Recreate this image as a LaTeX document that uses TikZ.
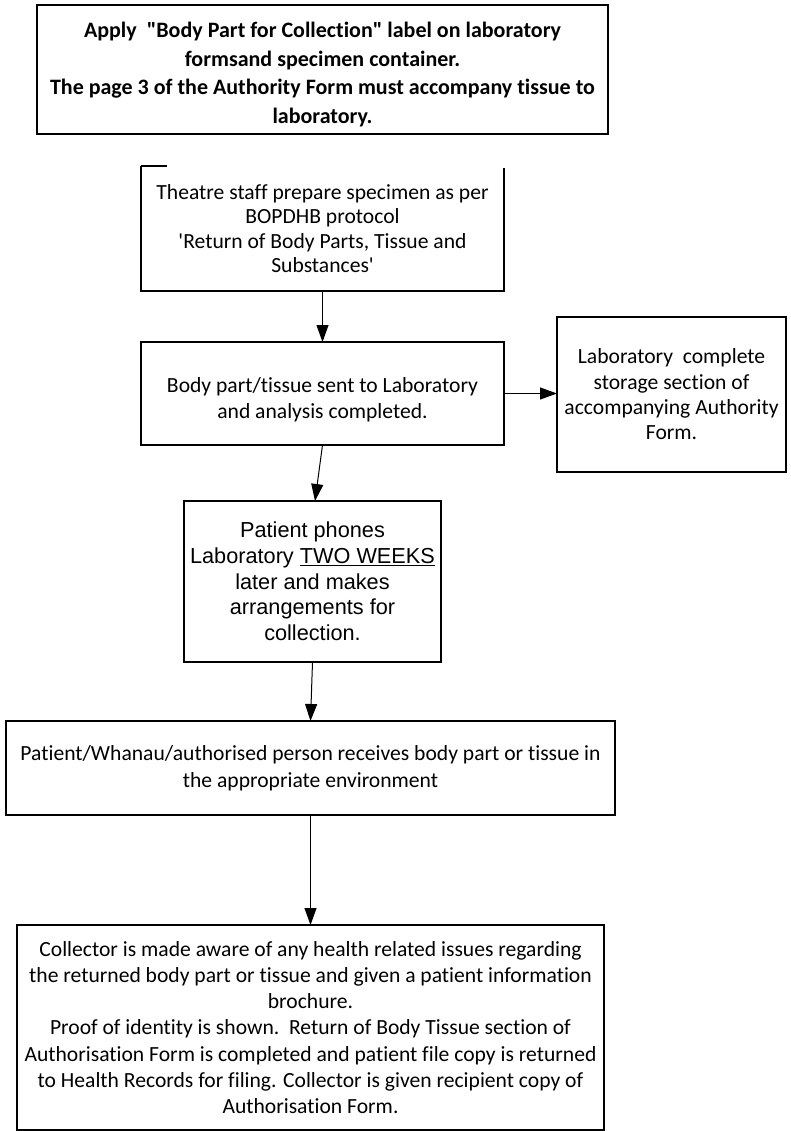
\documentclass[tikz,border=0pt]{standalone}
\usepackage{fontspec}
\setmainfont{Carlito}[Ligatures={TeXOff,CommonOff}]
\newfontfamily\arialfont{Liberation Sans}[Ligatures={TeXOff,CommonOff}]
\usetikzlibrary{arrows.meta,calc}
\begin{document}
\begin{tikzpicture}[x=1pt,y=-1pt,
  box/.style={draw=black,line width=1.2pt,inner sep=0pt,outer sep=0pt,align=center,
    font=\fontsize{21.6}{26}\selectfont},
  openbox/.style={box,draw=none},
  flow/.style={line width=1pt,-{Triangle[length=17pt,width=12pt]}}]
\useasboundingbox (0,0) rectangle (791,1131);

\node[box,minimum width=571pt,minimum height=129pt,
  label={[yshift=-5pt,align=center,font=\fontsize{22}{28.5}\selectfont\bfseries]center:{Apply\ \ "Body Part for Collection" label on laboratory\\
   formsand specimen container.\\
   The page 3 of the Authority Form must accompany tissue to\\
   laboratory.}}] (b1) at (322.5,69.5) {};

\node[openbox,minimum width=363pt,minimum height=125pt,
  font=\fontsize{21.6}{24.5}\selectfont] (b2) at (322.5,228.5)
  {Theatre staff prepare specimen as per\\
   BOPDHB protocol\\
   'Return of Body Parts, Tissue and\\
   Substances'};
\draw[line width=1.2pt] (b2.north west) -- ++(26,0);
\draw[line width=1.2pt] (b2.north west) -- (b2.south west) -- (b2.south east) -- ([yshift=-2pt]b2.north east);

\node[box,minimum width=363pt,minimum height=103pt,
  label={[yshift=-6pt,align=center,font=\fontsize{21.6}{26}\selectfont]center:{Body part/tissue sent to Laboratory\\
   and analysis completed.}}] (b3) at (322.5,393.5) {};

\node[box,minimum width=229pt,minimum height=155pt,
  font=\fontsize{21.6}{25.3}\selectfont] (b4) at (671.5,394.5)
  {Laboratory\ \ complete\\
   storage section of\\
   accompanying Authority\\
   Form.};

\node[box,minimum width=257pt,minimum height=161pt,
  font=\arialfont\fontsize{21.7}{25.7}\selectfont] (b5) at (312.5,581.5)
  {Patient phones\\
   Laboratory \underline{TWO WEEKS}\\
   later and makes\\
   arrangements for\\
   collection.};

\node[box,minimum width=609pt,minimum height=94pt,
  font=\fontsize{21.6}{27}\selectfont] (b6) at (310.5,768)
  {Patient/Whanau/authorised person receives body part or tissue in\\
   the appropriate environment};

\node[box,minimum width=587pt,minimum height=205pt,
  font=\fontsize{21.6}{26.2}\selectfont] (b7) at (310.5,1027.5)
  {Collector is made aware of any health related issues regarding\\
   the returned body part or tissue and given a patient information\\
   brochure.\\
   Proof of identity is shown.\ \ Return of Body Tissue section of\\
   Authorisation Form is completed and patient file copy is returned\\
   to Health Records for filing. Collector is given recipient copy of\\
   Authorisation Form.};

\draw[flow] (b2.south) -- (b3.north);
\draw[flow] (b3.east) -- (b3.east -| b4.west);
\draw[flow] (b3.south) -- ([xshift=2.5pt]b5.north);
\draw[flow] (b5.south) -- (b6.north);
\draw[flow] (b6.south) -- (b7.north);
\end{tikzpicture}
\end{document}
